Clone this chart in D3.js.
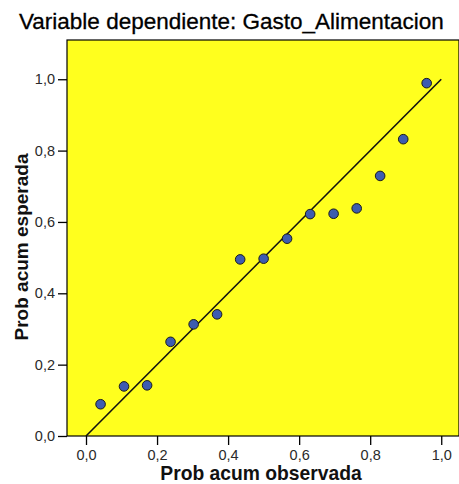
<!DOCTYPE html>
<html>
<head>
<meta charset="utf-8">
<script src="https://cdn.jsdelivr.net/npm/d3@7"></script>
<style>
  html, body { margin: 0; padding: 0; background: #fff; }
  svg { display: block; font-family: "Liberation Sans", Arial, sans-serif; }
</style>
</head>
<body>
<svg id="chart" width="459" height="484"></svg>
<script>
// Normal P-P plot of regression standardized residuals
const observedProb = [0.041, 0.107, 0.172, 0.238, 0.303, 0.369, 0.434, 0.500, 0.566, 0.631, 0.697, 0.762, 0.828, 0.893, 0.959];
const expectedProb = [0.089, 0.139, 0.142, 0.264, 0.313, 0.341, 0.495, 0.497, 0.553, 0.622, 0.623, 0.638, 0.729, 0.832, 0.989];
const tickValues = [0, 0.2, 0.4, 0.6, 0.8, 1.0];
const refLine = [0, 1];

const titleText = "Variable dependiente: Gasto_Alimentacion";
const xTitle = "Prob acum observada";
const yTitle = "Prob acum esperada";

const svg = d3.select("#chart");
const plot = { left: 67, right: 459, top: 40, bottom: 436 };

const x = d3.scaleLinear().domain([-0.0535, 1.05]).range([plot.left, plot.right]);
const y = d3.scaleLinear().domain([0, 1.11]).range([plot.bottom, plot.top]);

const fmt = d3.formatLocale({ decimal: ",", thousands: ".", grouping: [3], currency: ["", ""] }).format(".1f");

// plot background
svg.append("rect")
  .attr("x", plot.left).attr("y", plot.top)
  .attr("width", plot.right - plot.left).attr("height", plot.bottom - plot.top)
  .attr("fill", "#ffff1e")
  .attr("stroke", "#000").attr("stroke-width", 1.2);

// axes
const xAxis = svg.append("g")
  .attr("transform", `translate(0,${plot.bottom})`)
  .call(d3.axisBottom(x).tickValues(tickValues).tickSize(9).tickPadding(5).tickFormat(fmt));
const yAxis = svg.append("g")
  .attr("transform", `translate(${plot.left},0)`)
  .call(d3.axisLeft(y).tickValues(tickValues).tickSize(9).tickPadding(3).tickFormat(fmt));

[xAxis, yAxis].forEach(g => {
  g.select(".domain").remove();
  g.selectAll(".tick line").attr("stroke", "#000").attr("stroke-width", 1.3);
  g.selectAll(".tick text")
    .attr("fill", "#2a2a2a")
    .style("font-size", "14.5px")
    .style("font-family", "'Liberation Sans', Arial, sans-serif");
});

// reference diagonal
svg.append("line")
  .attr("x1", x(refLine[0])).attr("y1", y(refLine[0]))
  .attr("x2", x(refLine[1])).attr("y2", y(refLine[1]))
  .attr("stroke", "#111").attr("stroke-width", 1.6);

// points
svg.append("g").selectAll("circle")
  .data(observedProb.map((v, i) => [v, expectedProb[i]]))
  .join("circle")
  .attr("cx", d => x(d[0]))
  .attr("cy", d => y(d[1]))
  .attr("r", 4.8)
  .attr("fill", "#3d5cb0")
  .attr("stroke", "#1b1b1b")
  .attr("stroke-width", 1);

// titles
svg.append("text")
  .attr("x", 19).attr("y", 29)
  .attr("fill", "#000")
  .attr("stroke", "#000").attr("stroke-width", 0.3)
  .style("font-size", "22.5px")
  .text(titleText);

svg.append("text")
  .attr("x", 261).attr("y", 480)
  .attr("text-anchor", "middle")
  .attr("fill", "#111")
  .style("font-size", "19.3px").style("font-weight", "bold")
  .text(xTitle);

svg.append("text")
  .attr("transform", "translate(28,247) rotate(-90)")
  .attr("text-anchor", "middle")
  .attr("fill", "#111")
  .style("font-size", "19px").style("font-weight", "bold")
  .text(yTitle);
</script>
</body>
</html>
